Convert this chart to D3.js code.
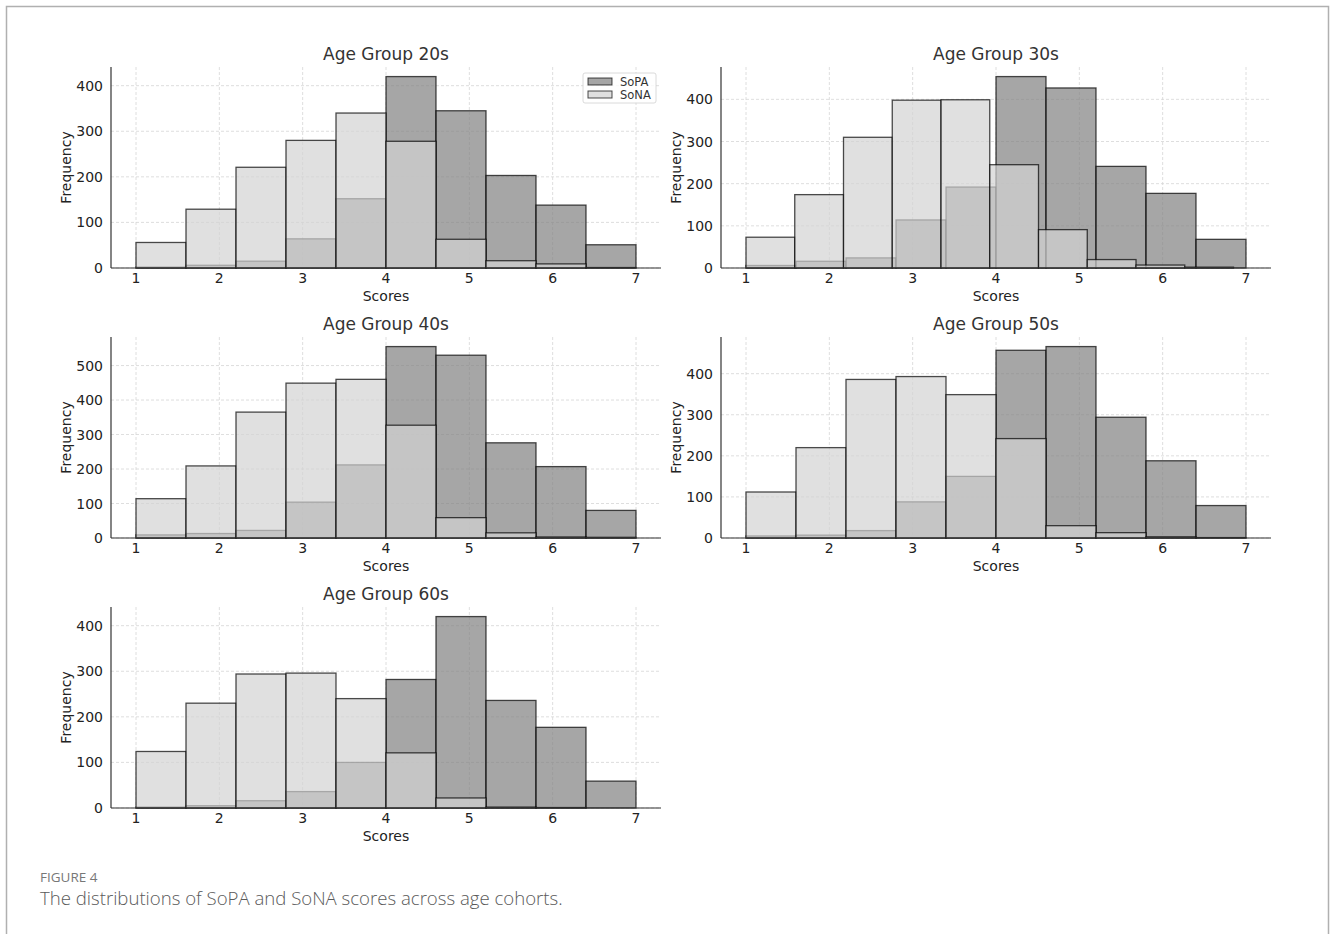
<!DOCTYPE html>
<html>
<head>
<meta charset="utf-8">
<script src="https://cdn.jsdelivr.net/npm/d3@7"></script>
<style>
  body { margin: 0; background: #fff; }
  svg text { font-family: "DejaVu Sans", sans-serif; }
  svg .caption { font-family: "Open Sans", "Noto Sans", sans-serif; }
</style>
</head>
<body>
<svg id="chart" width="1330" height="934"></svg>
<script>
// age cohorts and per-bin counts (10 bins each)
const groups = ['20s', '30s', '40s', '50s', '60s'];
const sopa20 = [2, 6, 15, 64, 152, 420, 345, 203, 138, 51];
const sona20 = [56, 129, 221, 280, 340, 278, 63, 16, 9, 1];
const sopa30 = [6, 16, 24, 114, 192, 454, 427, 241, 177, 68];
const sona30 = [73, 174, 310, 398, 399, 245, 91, 20, 7, 2];
const sopa40 = [9, 13, 22, 104, 212, 555, 530, 276, 207, 80];
const sona40 = [114, 209, 365, 449, 460, 327, 59, 15, 3, 2];
const sopa50 = [5, 7, 18, 88, 150, 457, 466, 294, 188, 79];
const sona50 = [112, 220, 386, 393, 349, 242, 30, 13, 3, 1];
const sopa60 = [2, 5, 16, 36, 100, 282, 420, 236, 177, 59];
const sona60 = [124, 230, 294, 296, 240, 121, 22, 2, 1, 0];
// histogram ranges (min, max of each series)
const sopaLo = [1, 1, 1, 1, 1];
const sopaHi = [7, 7, 7, 7, 7];
const sonaLo = [1, 1, 1, 1, 1];
const sonaHi = [7, 6.85, 7, 7, 7];
const xTicks = [1, 2, 3, 4, 5, 6, 7];

const sopaAll = [sopa20, sopa30, sopa40, sopa50, sopa60];
const sonaAll = [sona20, sona30, sona40, sona50, sona60];

const svg = d3.select('#chart');

// outer frame
svg.append('path')
  .attr('d', 'M6.5,940 V6.5 H1328.5 V940')
  .attr('fill', 'none')
  .attr('stroke', '#b0b0b0')
  .attr('stroke-width', 1.5);

const colLeft = [111, 721];
const rowTop = [67, 337, 607];
const width = 550;
const height = 201;

groups.forEach((g, k) => {
  const left = colLeft[k % 2];
  const top = rowTop[Math.floor(k / 2)];
  const sopa = sopaAll[k];
  const sona = sonaAll[k];

  const root = svg.append('g').attr('transform', `translate(${left},${top})`);

  const x = d3.scaleLinear().domain([0.7, 7.3]).range([0, width]);
  const ymax = d3.max(sopa.concat(sona)) * 1.05;
  const y = d3.scaleLinear().domain([0, ymax]).range([height, 0]);
  const yTicks = d3.range(0, ymax, 100);

  // grid
  root.append('g').selectAll('line').data(xTicks).enter().append('line')
    .attr('x1', d => x(d)).attr('x2', d => x(d))
    .attr('y1', 0).attr('y2', height)
    .attr('stroke', '#d6d6d6').attr('stroke-width', 0.8)
    .attr('stroke-dasharray', '3,2');
  root.append('g').selectAll('line').data(yTicks).enter().append('line')
    .attr('x1', 0).attr('x2', width)
    .attr('y1', d => y(d)).attr('y2', d => y(d))
    .attr('stroke', '#d6d6d6').attr('stroke-width', 0.8)
    .attr('stroke-dasharray', '3,2');

  // bars
  const drawHist = (counts, lo, hi, fill) => {
    const w = (hi - lo) / counts.length;
    root.append('g').selectAll('rect').data(counts).enter().append('rect')
      .attr('x', (d, i) => x(lo + i * w))
      .attr('width', (d, i) => x(lo + (i + 1) * w) - x(lo + i * w))
      .attr('y', d => y(d))
      .attr('height', d => y(0) - y(d))
      .attr('fill', fill)
      .attr('fill-opacity', 0.7)
      .attr('stroke', '#000')
      .attr('stroke-opacity', 0.7)
      .attr('stroke-width', 1.3);
  };
  drawHist(sopa, sopaLo[k], sopaHi[k], '#808080');
  drawHist(sona, sonaLo[k], sonaHi[k], '#d3d3d3');

  // axes
  root.append('line')
    .attr('x1', 0).attr('x2', 0).attr('y1', 0).attr('y2', height)
    .attr('stroke', '#333').attr('stroke-width', 1.2);
  root.append('line')
    .attr('x1', 0).attr('x2', width).attr('y1', height).attr('y2', height)
    .attr('stroke', '#333').attr('stroke-width', 1.2);

  root.append('g').selectAll('text').data(xTicks).enter().append('text')
    .attr('x', d => x(d)).attr('y', height + 15)
    .attr('text-anchor', 'middle')
    .attr('font-size', 14).attr('fill', '#222')
    .text(d => d);
  root.append('g').selectAll('text').data(yTicks).enter().append('text')
    .attr('x', -8).attr('y', d => y(d) + 5)
    .attr('text-anchor', 'end')
    .attr('font-size', 14).attr('fill', '#222')
    .text(d => d);

  root.append('text')
    .attr('x', width / 2).attr('y', height + 33)
    .attr('text-anchor', 'middle')
    .attr('font-size', 14).attr('fill', '#222')
    .text('Scores');
  root.append('text')
    .attr('transform', `translate(-40,${height / 2}) rotate(-90)`)
    .attr('text-anchor', 'middle')
    .attr('font-size', 14).attr('fill', '#222')
    .text('Frequency');

  root.append('text')
    .attr('x', width / 2).attr('y', -7)
    .attr('text-anchor', 'middle')
    .attr('font-size', 17).attr('fill', '#333')
    .text('Age Group ' + g);

  // legend on first panel only
  if (k === 0) {
    const lg = root.append('g').attr('transform', `translate(${width - 78},6)`);
    lg.append('rect')
      .attr('width', 73).attr('height', 30).attr('rx', 2)
      .attr('fill', '#fff').attr('fill-opacity', 0.8)
      .attr('stroke', '#d0d0d0').attr('stroke-width', 0.8);
    [['SoPA', '#808080'], ['SoNA', '#d3d3d3']].forEach(([name, col], i) => {
      lg.append('rect')
        .attr('x', 5).attr('y', 5 + i * 13)
        .attr('width', 24).attr('height', 7)
        .attr('fill', col).attr('fill-opacity', 0.7)
        .attr('stroke', '#000').attr('stroke-opacity', 0.7).attr('stroke-width', 1);
      lg.append('text')
        .attr('x', 37).attr('y', 12.5 + i * 13)
        .attr('font-size', 11.5).attr('fill', '#333')
        .text(name);
    });
  }
});

// caption
svg.append('text').attr('class', 'caption')
  .attr('x', 40).attr('y', 882)
  .attr('font-size', 13.5).attr('fill', '#777')
  .text('FIGURE 4');
svg.append('text').attr('class', 'caption')
  .attr('x', 40).attr('y', 905)
  .attr('font-size', 18.6).attr('font-weight', 300).attr('fill', '#5a5a5a')
  .text('The distributions of SoPA and SoNA scores across age cohorts.');
</script>
</body>
</html>
